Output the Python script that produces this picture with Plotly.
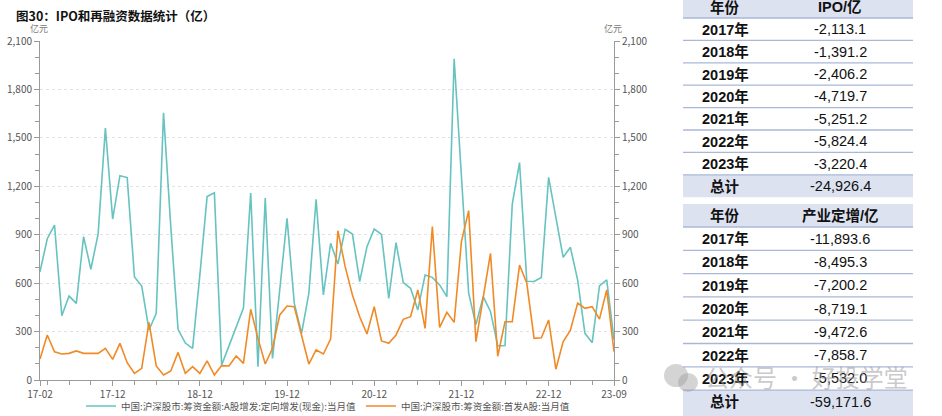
import plotly.graph_objects as go

W, H = 942, 416

# ---------------- data ----------------
tick_idx = [0, 10, 22, 34, 46, 58, 70, 79]
tick_text = ["17-02", "17-12", "18-12", "19-12", "20-12", "21-12", "22-12", "23-09"]

placement = [670, 875, 960, 398, 520, 475, 888, 686, 905, 1560,
             997, 1266, 1254, 638, 582, 310, 413, 1655, 950, 314,
             229, 196, 650, 1136, 1160, 93, 210, 330, 446, 1158,
             83, 1128, 134, 560, 1001, 475, 289, 537, 1120, 527,
             847, 719, 933, 904, 609, 826, 935, 902, 506, 851,
             603, 568, 434, 650, 636, 589, 516, 1990, 1250, 537,
             343, 516, 425, 211, 214, 1090, 1347, 612, 610, 635,
             1255, 1012, 760, 822, 619, 289, 231, 583, 620, 250]

ipo_month = [130, 279, 175, 161, 165, 180, 165, 165, 165, 196,
             128, 227, 107, 41, 72, 357, 87, 31, 56, 171,
             41, 83, 41, 118, 31, 89, 87, 149, 103, 438,
             258, 99, 196, 403, 458, 454, 268, 99, 186, 161,
             253, 925, 702, 527, 392, 285, 454, 242, 227, 279,
             376, 392, 558, 320, 950, 326, 419, 357, 857, 1049,
             237, 520, 785, 147, 361, 361, 712, 599, 258, 262,
             372, 67, 237, 308, 477, 444, 454, 377, 558, 175]

name_placement = "中国:沪深股市:筹资金额:A股增发:定向增发(现金):当月值"
name_ipo = "中国:沪深股市:筹资金额:首发A股:当月值"

years = ["2017年", "2018年", "2019年", "2020年", "2021年", "2022年", "2023年"]
total_label = "总计"
ipo_year = [-2113.1, -1391.2, -2406.2, -4719.7, -5251.2, -5824.4, -3220.4]
ipo_total = -24926.4
pp_year = [-11893.6, -8495.3, -7200.2, -8719.1, -9472.6, -7858.7, -5532.0]
pp_total = -59171.6
header1 = ["年份", "IPO/亿"]
header2 = ["年份", "产业定增/亿"]

# ---------------- style ----------------
TEAL = "#66c3c0"
ORANGE = "#f08a26"
AX = "#9a9a9a"
LAV = "#dde2f0"
SEP = "#aab8d8"
FONT_CJK = "Noto Sans CJK SC"
FONT_TBL = "Liberation Sans, Noto Sans CJK SC"


def px_x(p):
    return p / W


def px_y(p):
    return 1 - p / H


x_idx = list(range(len(placement)))

fig = go.Figure()
fig.add_trace(go.Scatter(x=x_idx, y=placement, mode="lines", name=name_placement,
                         line=dict(color=TEAL, width=1.6), xaxis="x", yaxis="y"))
fig.add_trace(go.Scatter(x=x_idx, y=ipo_month, mode="lines", name=name_ipo,
                         line=dict(color=ORANGE, width=1.6), xaxis="x", yaxis="y2"))

yax_common = dict(range=[0, 2100], dtick=300, tick0=0, tickformat=",",
                  showline=True, linecolor=AX, linewidth=1,
                  ticks="outside", ticklen=5, tickcolor=AX, automargin=False,
                  tickfont=dict(family=FONT_CJK, size=10, color="#555"),
                  minor=dict(dtick=100, tick0=0, ticks="outside", ticklen=4, tickcolor=AX, showgrid=False),
                  domain=[px_y(380), px_y(41)], zeroline=False, fixedrange=True)

fig.update_layout(
    width=W, height=H, autosize=False,
    margin=dict(l=0, r=0, t=0, b=0, pad=0, autoexpand=False),
    paper_bgcolor="white", plot_bgcolor="white",
    showlegend=True,
    xaxis=dict(domain=[px_x(40), px_x(614)], range=[0, len(placement) - 1],
               tickvals=tick_idx, ticktext=tick_text, automargin=False,
               showline=True, linecolor=AX, linewidth=1,
               ticks="outside", ticklen=5, tickcolor=AX, showgrid=False, zeroline=False,
               tickfont=dict(family=FONT_CJK, size=10, color="#555"),
               minor=dict(tick0=1, dtick=3, ticks="outside", ticklen=4, tickcolor=AX, showgrid=False)),
    yaxis=dict(side="left", showgrid=True, gridcolor="#e2e2e2", gridwidth=1, griddash="3px,3px",
               **yax_common),
    yaxis2=dict(side="right", overlaying="y", showgrid=False, anchor="x", **yax_common),
    legend=dict(orientation="h", x=px_x(81), xanchor="left", y=px_y(406), yanchor="middle",
                font=dict(family=FONT_CJK, size=9.5, color="#555"), itemwidth=30,
                bgcolor="rgba(0,0,0,0)"),
)

# title and unit labels
fig.add_annotation(text="<b>图30：IPO和再融资数据统计（亿）</b>", xref="paper", yref="paper",
                   x=px_x(14), y=px_y(16), xanchor="left", yanchor="middle", showarrow=False,
                   font=dict(family=FONT_CJK, size=12.5, color="#111"))
fig.add_annotation(text="亿元", xref="paper", yref="paper", x=px_x(39), y=px_y(29),
                   xanchor="center", yanchor="middle", showarrow=False,
                   font=dict(family=FONT_CJK, size=9, color="#777"))
fig.add_annotation(text="亿元", xref="paper", yref="paper", x=px_x(613), y=px_y(29),
                   xanchor="center", yanchor="middle", showarrow=False,
                   font=dict(family=FONT_CJK, size=9, color="#777"))

# ---------------- tables (cells built from the arrays) ----------------
TX0, TX1 = 683, 913
COL_CX = [725, 840]


def rect(y0, y1, color):
    fig.add_shape(type="rect", xref="paper", yref="paper", layer="below",
                  x0=px_x(TX0), x1=px_x(TX1), y0=px_y(y1), y1=px_y(y0),
                  fillcolor=color, line=dict(width=0))


def cell_text(txt, cx, cy, bold):
    fig.add_annotation(text=("<b>%s</b>" % txt) if bold else txt, xref="paper", yref="paper",
                       x=px_x(cx), y=px_y(cy), xanchor="center", yanchor="middle",
                       showarrow=False, font=dict(family=FONT_TBL, size=14.5, color="#111"))


def add_table(top, head_h, row_h, header, vals, total, fill_bottom):
    labels = years + [total_label]
    values = vals + [total]
    n = len(labels)
    body_top = top + head_h
    rect(max(top, 0), body_top, LAV)
    for j, h in enumerate(header):
        cell_text(h, COL_CX[j], top + head_h / 2, True)
    rect(body_top + (n - 1) * row_h, fill_bottom, LAV)
    for i in range(n):
        cy = body_top + (i + 0.5) * row_h
        cell_text(labels[i], COL_CX[0], cy, True)
        cell_text("{:,.1f}".format(values[i]), COL_CX[1], cy, False)
    for k in range(n):
        yy = body_top + k * row_h
        fig.add_shape(type="line", xref="paper", yref="paper",
                      x0=px_x(TX0), x1=px_x(TX1), y0=px_y(yy), y1=px_y(yy),
                      line=dict(color=SEP, width=1.3))


add_table(-4, 22, 22.4, header1, ipo_year, ipo_total, 197.2)
add_table(204, 23, 23.3, header2, pp_year, pp_total, 416)

# watermark
fig.add_shape(type="circle", xref="paper", yref="paper",
              x0=px_x(664), x1=px_x(688), y0=px_y(387), y1=px_y(364),
              fillcolor="rgba(160,160,160,0.45)", line=dict(width=0))
fig.add_shape(type="circle", xref="paper", yref="paper",
              x0=px_x(678), x1=px_x(698), y0=px_y(392), y1=px_y(373),
              fillcolor="rgba(160,160,160,0.45)", line=dict(width=0))
fig.add_annotation(text="公众号 · 好投学堂", xref="paper", yref="paper",
                   x=px_x(806), y=px_y(376), xanchor="center", yanchor="middle", showarrow=False,
                   font=dict(family=FONT_CJK, size=24, color="rgba(150,150,150,0.5)"))

fig.write_html(
    "out.html",
    config={"responsive": False, "displayModeBar": False},
    post_script=("document.documentElement.style.margin='0px';"
                 "document.body.style.margin='0px';"
                 "document.documentElement.style.overflow='hidden';"
                 "document.body.style.overflow='hidden';"),
)
